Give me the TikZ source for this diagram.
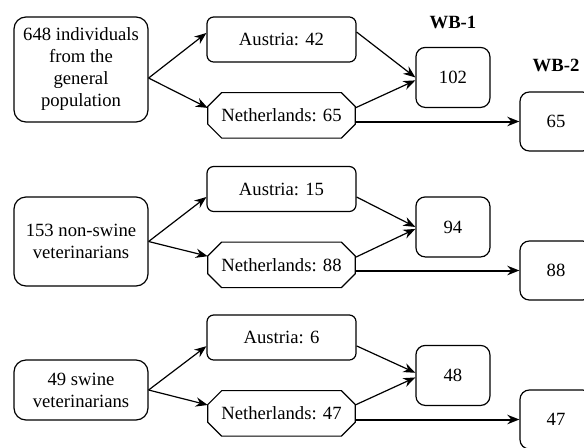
\documentclass[tikz,border=0pt]{standalone}
\usepackage{fontspec}
\setmainfont{Liberation Serif}
\usetikzlibrary{arrows.meta,positioning,calc}

\begin{document}
\begin{tikzpicture}[
    x=0.75pt, y=-0.75pt,
    % Base styles for the boxes
    every node/.style={font=\fontsize{14}{16.5}\selectfont},
    group/.style={draw, line width=0.9pt, rounded corners=9pt,
        minimum width=100.5pt, inner sep=2pt, align=center},
    austria/.style={draw, line width=0.9pt, rounded corners=5pt,
        minimum width=111.75pt, minimum height=33.75pt},
    % octagon drawn round a plain rectangle
    nether/.style={inner sep=0pt, minimum width=110.25pt, minimum height=33.75pt,
        append after command={\pgfextra{\draw[line width=0.9pt]
            ([xshift=10.5pt]\tikzlastnode.north west) -- ([xshift=-10.5pt]\tikzlastnode.north east)
            -- ([yshift=-10.5pt]\tikzlastnode.north east) -- ([yshift=10.5pt]\tikzlastnode.south east)
            -- ([xshift=-10.5pt]\tikzlastnode.south east) -- ([xshift=10.5pt]\tikzlastnode.south west)
            -- ([yshift=10.5pt]\tikzlastnode.south west) -- ([yshift=-10.5pt]\tikzlastnode.north west)
            -- cycle;}}},
    total/.style={draw, line width=0.9pt, rounded corners=7pt,
        minimum width=55.5pt, minimum height=45pt},
    wave/.style={font=\fontsize{14}{16.5}\selectfont\bfseries},
    flow/.style={-{Stealth[length=9pt,width=7pt]}, line width=0.9pt},
    node distance=22.5pt
]
\clip (0,0) rectangle (584,447);

% ==================== BLOCK 1: GENERAL POPULATION ====================
\begin{scope}
    \node[group, minimum height=78.75pt] (src1) at (81,69.5) {648 individuals\\from the\\general\\population};
    \node[austria] (aus1) at (281.5,39.5) {Austria: 42};
    \node[nether, below=of aus1] (nl1) {Netherlands: 65};
    \node[total] (res1) at ($(aus1.east)!0.5!(nl1.east)+(97,0)$) {102};
    \node[total, minimum width=54pt, minimum height=44.25pt] (wbb1) at (556,121.5) {65};
    % wave labels
    \node[wave, above=10pt of res1] (wl1) {WB-1};
    \node[wave, above=11pt of wbb1] (wl2) {WB-2};
    % edges with arrows
    \draw[flow] ([yshift=-6.4pt]src1.east) -- ([yshift=4.9pt]aus1.west);
    \draw[flow] ([yshift=-6.4pt]src1.east) -- ([yshift=5.6pt]nl1.west);
    \draw[flow] ([yshift=5.6pt]aus1.east) -- (res1.west);
    \draw[flow] ([yshift=5.6pt]nl1.east) -- ([yshift=-2.2pt]res1.west);
    \draw[flow, line width=1.5pt] (nl1.east |- wbb1.west) -- (wbb1.west);
\end{scope}

% ==================== BLOCK 2: NON-SWINE VETERINARIANS ====================
\begin{scope}[shift={(0,149.5)}]
    \node[group, minimum height=66.75pt] (src2) at (81,92) {153 non-swine\\veterinarians};
    \node[austria] (aus2) at (281.5,39.5) {Austria: 15};
    \node[nether, below=of aus2] (nl2) {Netherlands: 88};
    \node[total] (res2) at ($(aus2.east)!0.5!(nl2.east)+(97,0)$) {94};
    \node[total, minimum width=54pt, minimum height=44.25pt] (wbb2) at (556,121) {88};
    % edges with arrows
    \draw[flow] (src2.east) -- ([yshift=-6pt]aus2.west);
    \draw[flow] (src2.east) -- ([yshift=6.5pt]nl2.west);
    \draw[flow] ([yshift=-6pt]aus2.east) -- (res2.west);
    \draw[flow] ([yshift=5.6pt]nl2.east) -- ([yshift=-1.5pt]res2.west);
    \draw[flow, line width=1.5pt] (nl2.east |- wbb2.west) -- (wbb2.west);
\end{scope}

% ==================== BLOCK 3: SWINE VETERINARIANS ====================
\begin{scope}[shift={(0,298)}]
    \node[group, minimum height=45pt] (src3) at (81,92) {49 swine\\veterinarians};
    \node[austria] (aus3) at (281.5,39.5) {Austria: 6};
    \node[nether, below=of aus3] (nl3) {Netherlands: 47};
    \node[total] (res3) at ($(aus3.east)!0.5!(nl3.east)+(97,0)$) {48};
    \node[total, minimum width=54pt, minimum height=44.25pt] (wbb3) at (556,121.5) {47};
    % edges with arrows
    \draw[flow] (src3.east) -- ([yshift=-6.5pt]aus3.west);
    \draw[flow] (src3.east) -- ([yshift=6.3pt]nl3.west);
    \draw[flow] ([yshift=-6.3pt]aus3.east) -- ([yshift=2pt]res3.west);
    \draw[flow] ([yshift=6.3pt]nl3.east) -- ([yshift=-1.5pt]res3.west);
    \draw[flow, line width=1.5pt] (nl3.east |- wbb3.west) -- (wbb3.west);
\end{scope}

\end{tikzpicture}
\end{document}
